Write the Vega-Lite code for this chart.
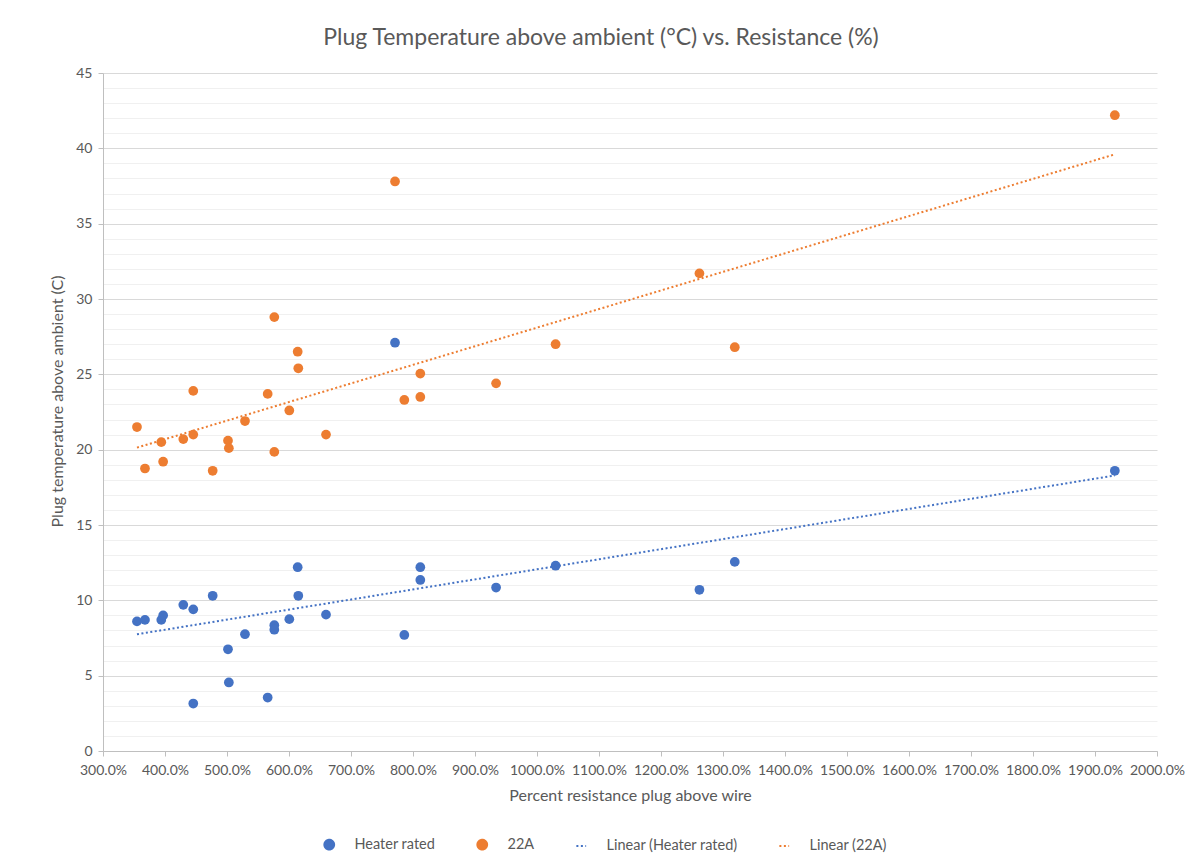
{
  "$schema": "https://vega.github.io/schema/vega-lite/v6.json",
  "width": 1054,
  "height": 678,
  "autosize": "none",
  "padding": {"left": 103, "top": 73, "right": 29, "bottom": 112},
  "background": "white",
  "config": {
    "view": {"stroke": null},
    "font": "Lato",
    "title": {"font": "Lato", "fontSize": 23, "fontWeight": "normal", "color": "#595959"}
  },
  "title": {"text": "Plug Temperature  above ambient (°C) vs. Resistance (%)", "anchor": "middle", "dx": -29, "offset": 16},
  "data": {"values": [
    {"pct": 3.548, "temp": 8.6, "series": "Heater rated", "trend": "Linear (Heater rated)"},
    {"pct": 3.677, "temp": 8.7, "series": "Heater rated", "trend": "Linear (Heater rated)"},
    {"pct": 3.94, "temp": 8.7, "series": "Heater rated", "trend": "Linear (Heater rated)"},
    {"pct": 3.97, "temp": 9.0, "series": "Heater rated", "trend": "Linear (Heater rated)"},
    {"pct": 4.295, "temp": 9.7, "series": "Heater rated", "trend": "Linear (Heater rated)"},
    {"pct": 4.456, "temp": 9.4, "series": "Heater rated", "trend": "Linear (Heater rated)"},
    {"pct": 4.456, "temp": 3.15, "series": "Heater rated", "trend": "Linear (Heater rated)"},
    {"pct": 4.769, "temp": 10.3, "series": "Heater rated", "trend": "Linear (Heater rated)"},
    {"pct": 5.016, "temp": 6.75, "series": "Heater rated", "trend": "Linear (Heater rated)"},
    {"pct": 5.03, "temp": 4.55, "series": "Heater rated", "trend": "Linear (Heater rated)"},
    {"pct": 5.29, "temp": 7.75, "series": "Heater rated", "trend": "Linear (Heater rated)"},
    {"pct": 5.656, "temp": 3.55, "series": "Heater rated", "trend": "Linear (Heater rated)"},
    {"pct": 5.763, "temp": 8.35, "series": "Heater rated", "trend": "Linear (Heater rated)"},
    {"pct": 5.763, "temp": 8.05, "series": "Heater rated", "trend": "Linear (Heater rated)"},
    {"pct": 6.005, "temp": 8.75, "series": "Heater rated", "trend": "Linear (Heater rated)"},
    {"pct": 6.14, "temp": 12.2, "series": "Heater rated", "trend": "Linear (Heater rated)"},
    {"pct": 6.15, "temp": 10.3, "series": "Heater rated", "trend": "Linear (Heater rated)"},
    {"pct": 6.597, "temp": 9.05, "series": "Heater rated", "trend": "Linear (Heater rated)"},
    {"pct": 7.71, "temp": 27.1, "series": "Heater rated", "trend": "Linear (Heater rated)"},
    {"pct": 7.86, "temp": 7.7, "series": "Heater rated", "trend": "Linear (Heater rated)"},
    {"pct": 8.118, "temp": 12.2, "series": "Heater rated", "trend": "Linear (Heater rated)"},
    {"pct": 8.118, "temp": 11.35, "series": "Heater rated", "trend": "Linear (Heater rated)"},
    {"pct": 9.34, "temp": 10.85, "series": "Heater rated", "trend": "Linear (Heater rated)"},
    {"pct": 10.3, "temp": 12.3, "series": "Heater rated", "trend": "Linear (Heater rated)"},
    {"pct": 12.62, "temp": 10.7, "series": "Heater rated", "trend": "Linear (Heater rated)"},
    {"pct": 13.19, "temp": 12.55, "series": "Heater rated", "trend": "Linear (Heater rated)"},
    {"pct": 19.32, "temp": 18.6, "series": "Heater rated", "trend": "Linear (Heater rated)"},
    {"pct": 3.548, "temp": 21.5, "series": "22A", "trend": "Linear (22A)"},
    {"pct": 3.677, "temp": 18.75, "series": "22A", "trend": "Linear (22A)"},
    {"pct": 3.94, "temp": 20.5, "series": "22A", "trend": "Linear (22A)"},
    {"pct": 3.97, "temp": 19.2, "series": "22A", "trend": "Linear (22A)"},
    {"pct": 4.295, "temp": 20.7, "series": "22A", "trend": "Linear (22A)"},
    {"pct": 4.456, "temp": 21.0, "series": "22A", "trend": "Linear (22A)"},
    {"pct": 4.456, "temp": 23.9, "series": "22A", "trend": "Linear (22A)"},
    {"pct": 4.769, "temp": 18.6, "series": "22A", "trend": "Linear (22A)"},
    {"pct": 5.016, "temp": 20.6, "series": "22A", "trend": "Linear (22A)"},
    {"pct": 5.03, "temp": 20.1, "series": "22A", "trend": "Linear (22A)"},
    {"pct": 5.29, "temp": 21.9, "series": "22A", "trend": "Linear (22A)"},
    {"pct": 5.656, "temp": 23.7, "series": "22A", "trend": "Linear (22A)"},
    {"pct": 5.763, "temp": 28.8, "series": "22A", "trend": "Linear (22A)"},
    {"pct": 5.763, "temp": 19.85, "series": "22A", "trend": "Linear (22A)"},
    {"pct": 6.005, "temp": 22.6, "series": "22A", "trend": "Linear (22A)"},
    {"pct": 6.14, "temp": 26.5, "series": "22A", "trend": "Linear (22A)"},
    {"pct": 6.15, "temp": 25.4, "series": "22A", "trend": "Linear (22A)"},
    {"pct": 6.597, "temp": 21.0, "series": "22A", "trend": "Linear (22A)"},
    {"pct": 7.71, "temp": 37.8, "series": "22A", "trend": "Linear (22A)"},
    {"pct": 7.86, "temp": 23.3, "series": "22A", "trend": "Linear (22A)"},
    {"pct": 8.118, "temp": 25.05, "series": "22A", "trend": "Linear (22A)"},
    {"pct": 8.118, "temp": 23.5, "series": "22A", "trend": "Linear (22A)"},
    {"pct": 9.34, "temp": 24.4, "series": "22A", "trend": "Linear (22A)"},
    {"pct": 10.3, "temp": 27.0, "series": "22A", "trend": "Linear (22A)"},
    {"pct": 12.62, "temp": 31.7, "series": "22A", "trend": "Linear (22A)"},
    {"pct": 13.19, "temp": 26.8, "series": "22A", "trend": "Linear (22A)"},
    {"pct": 19.32, "temp": 42.2, "series": "22A", "trend": "Linear (22A)"}
  ]},
  "encoding": {
    "x": {
      "field": "pct", "type": "quantitative",
      "scale": {"domain": [3, 20], "nice": false, "zero": false},
      "axis": {
        "title": "Percent resistance plug above wire",
        "values": [3, 4, 5, 6, 7, 8, 9, 10, 11, 12, 13, 14, 15, 16, 17, 18, 19, 20],
        "format": ".1%",
        "grid": false,
        "domainColor": "#BFBFBF", "tickColor": "#BFBFBF", "tickSize": 5,
        "labelColor": "#595959", "labelFontSize": 14, "labelPadding": 7, "labelFlush": false, "labelOverlap": false,
        "titleColor": "#595959", "titleFontSize": 16, "titleFontWeight": "normal", "titlePadding": 10
      }
    },
    "y": {
      "field": "temp", "type": "quantitative",
      "scale": {"domain": [0, 45], "nice": false},
      "axis": {
        "title": "Plug temperature above ambient (C)",
        "values": [0,1,2,3,4,5,6,7,8,9,10,11,12,13,14,15,16,17,18,19,20,21,22,23,24,25,26,27,28,29,30,31,32,33,34,35,36,37,38,39,40,41,42,43,44,45],
        "labelExpr": "datum.value % 5 === 0 ? datum.label : ''",
        "gridColor": {"condition": {"test": "datum.value % 5 === 0", "value": "#D9D9D9"}, "value": "#F0F0F0"},
        "gridWidth": 1,
        "tickOpacity": {"condition": {"test": "datum.value % 5 === 0", "value": 1}, "value": 0},
        "domainColor": "#BFBFBF", "tickColor": "#BFBFBF", "tickSize": 5,
        "labelColor": "#595959", "labelFontSize": 14, "labelPadding": 6, "labelFlush": false, "labelOverlap": false,
        "titleColor": "#595959", "titleFontSize": 16, "titleFontWeight": "normal", "titlePadding": 10,
        "titleY": 328
      }
    }
  },
  "layer": [
    {
      "mark": {"type": "point", "filled": true, "opacity": 1},
      "encoding": {
        "color": {
          "field": "series", "type": "nominal",
          "scale": {"domain": ["Heater rated", "22A", "Linear (Heater rated)", "Linear (22A)"], "range": ["#4472C4", "#ED7D31", "#4472C4", "#ED7D31"]},
          "legend": {
            "title": null,
            "orient": "none",
            "legendX": 219,
            "legendY": 764,
            "direction": "horizontal",
            "columns": 4,
            "columnPadding": 37,
            "labelColor": "#595959",
            "labelFontSize": 14.5,
            "labelOffset": 18,
            "symbolStrokeWidth": 2
          }
        },
        "shape": {
          "field": "series", "type": "nominal",
          "scale": {"domain": ["Heater rated", "22A", "Linear (Heater rated)", "Linear (22A)"], "range": ["circle", "circle", "stroke", "stroke"]},
          "legend": {"title": null}
        },
        "size": {
          "field": "series", "type": "ordinal",
          "scale": {"domain": ["Heater rated", "22A", "Linear (Heater rated)", "Linear (22A)"], "range": [95, 95, 900, 900]},
          "legend": {"title": null}
        }
      }
    },
    {
      "transform": [{"regression": "temp", "on": "pct", "groupby": ["trend"]}],
      "mark": {"type": "line", "strokeWidth": 2},
      "encoding": {
        "color": {"field": "trend", "type": "nominal"},
        "strokeDash": {
          "field": "trend", "type": "nominal",
          "scale": {"domain": ["Heater rated", "22A", "Linear (Heater rated)", "Linear (22A)"], "range": [[1, 0], [1, 0], [2, 2.5], [2, 2.5]]},
          "legend": {"title": null}
        }
      }
    }
  ]
}
